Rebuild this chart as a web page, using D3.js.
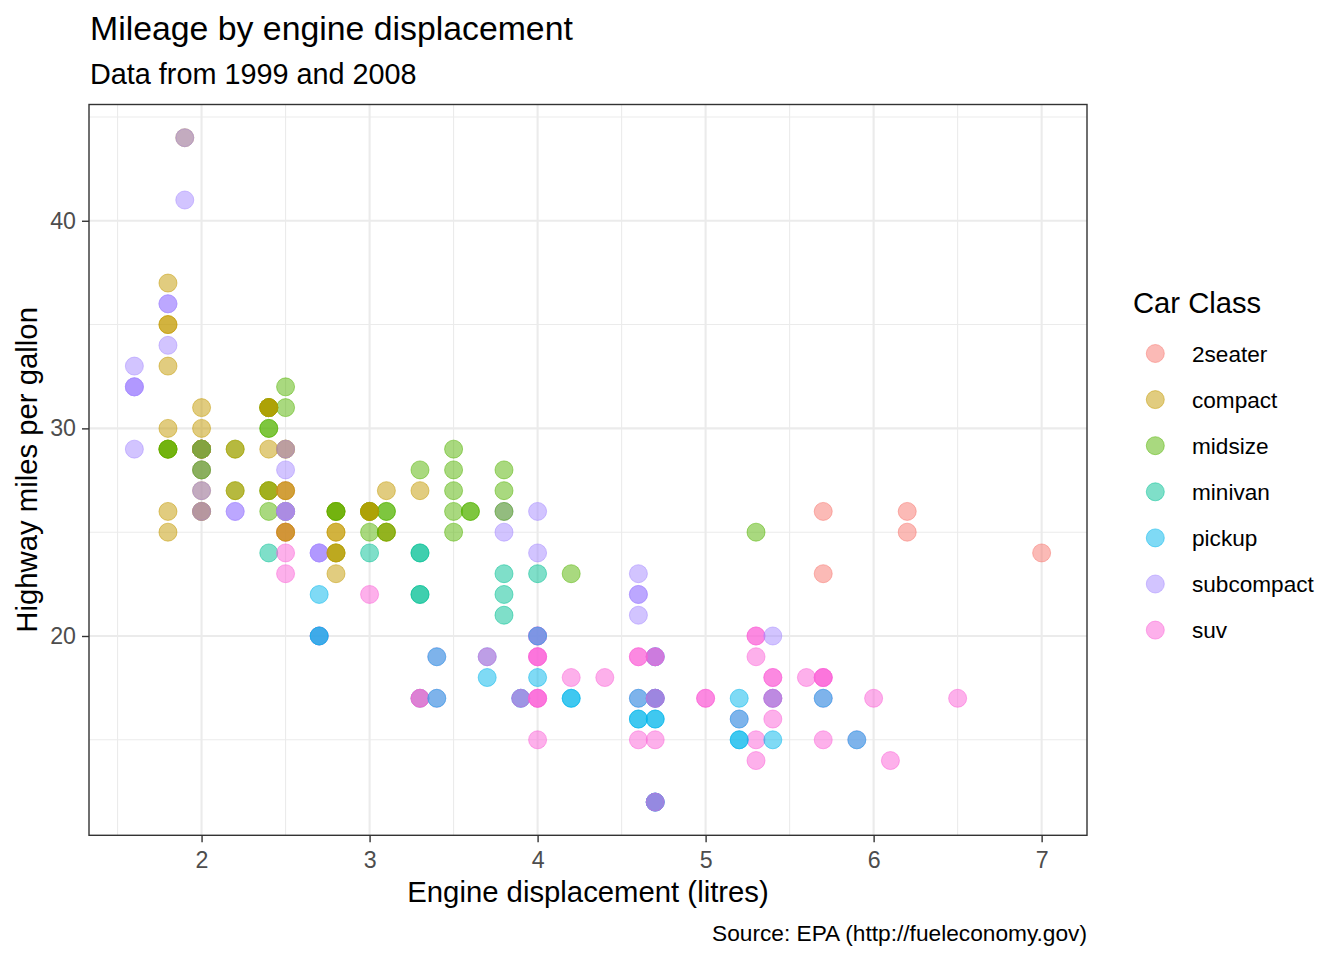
<!DOCTYPE html>
<html>
<head>
<meta charset="utf-8">
<script src="https://cdn.jsdelivr.net/npm/d3@7"></script>
<style>
  html, body { margin: 0; padding: 0; background: #ffffff; }
  svg { display: block; font-family: "Liberation Sans", Arial, Helvetica, sans-serif; }
</style>
</head>
<body>
<svg id="chart" width="1344" height="960"></svg>
<script>
// ---- data (ggplot2 mpg: displ, hwy, class), in dataset row order ----
const displ = [
  // audi
  1.8,1.8,2.0,2.0,2.8,2.8,3.1,1.8,1.8,2.0,2.0,2.8,2.8,3.1,3.1,2.8,3.1,4.2,
  // chevrolet
  5.3,5.3,5.3,5.7,6.0,5.7,5.7,6.2,6.2,7.0,5.3,5.3,5.7,6.5,2.4,2.4,3.1,3.5,3.6,
  // dodge
  2.4,3.0,3.3,3.3,3.3,3.3,3.3,3.8,3.8,3.8,4.0,
  3.7,3.7,3.9,3.9,4.7,4.7,4.7,5.2,5.2,
  3.9,4.7,4.7,4.7,5.2,5.7,5.9,
  4.7,4.7,4.7,4.7,4.7,4.7,5.2,5.2,5.7,5.9,
  // ford
  4.6,5.4,5.4,4.0,4.0,4.0,4.0,4.6,5.0,4.2,4.2,4.6,4.6,4.6,5.4,5.4,
  3.8,3.8,4.0,4.0,4.6,4.6,4.6,4.6,5.4,
  // honda
  1.6,1.6,1.6,1.6,1.6,1.8,1.8,1.8,2.0,
  // hyundai
  2.4,2.4,2.4,2.4,2.5,2.5,3.3,2.0,2.0,2.0,2.0,2.7,2.7,2.7,
  // jeep
  3.0,3.7,4.0,4.7,4.7,4.7,5.7,6.1,
  // land rover, lincoln, mercury
  4.0,4.2,4.4,4.6,5.4,5.4,5.4,4.0,4.0,4.6,5.0,
  // nissan
  2.4,2.4,2.5,2.5,3.5,3.5,3.0,3.0,3.5,3.3,3.3,4.0,5.6,
  // pontiac
  3.1,3.8,3.8,3.8,5.3,
  // subaru
  2.5,2.5,2.5,2.5,2.5,2.5,2.2,2.2,2.5,2.5,2.5,2.5,2.5,2.5,
  // toyota
  2.7,2.7,3.4,3.4,4.0,4.7,
  2.2,2.2,2.4,2.4,3.0,3.0,3.5,
  2.2,2.2,2.4,2.4,3.0,3.0,3.3,
  1.8,1.8,1.8,1.8,1.8,
  4.7,5.7,
  2.7,2.7,2.7,3.4,3.4,4.0,4.0,
  // volkswagen
  2.0,2.0,2.0,2.0,2.8,
  1.9,2.0,2.0,2.0,2.0,2.5,2.5,2.8,2.8,
  1.9,1.9,2.0,2.0,2.5,2.5,
  1.8,1.8,2.0,2.0,2.8,2.8,3.6
];

const hwy = [
  // audi
  29,29,31,30,26,26,27,26,25,28,27,25,25,25,25,24,25,23,
  // chevrolet
  20,15,20,17,17,26,23,26,25,24,19,14,15,17,27,30,26,29,26,
  // dodge
  24,24,22,22,24,24,17,22,21,23,23,
  19,18,17,17,19,19,12,17,15,
  17,17,12,17,16,18,15,
  16,12,17,17,16,12,15,16,17,15,
  // ford
  17,17,18,17,19,17,19,19,17,17,17,16,16,17,15,17,
  26,25,26,24,21,22,23,22,20,
  // honda
  33,32,32,29,32,34,36,36,29,
  // hyundai
  26,27,30,31,26,26,28,26,29,28,27,24,24,24,
  // jeep
  22,19,20,17,12,19,18,14,
  // land rover, lincoln, mercury
  15,18,18,15,17,16,18,17,19,19,17,
  // nissan
  29,27,31,32,27,26,26,25,25,17,17,20,18,
  // pontiac
  26,26,27,28,25,
  // subaru
  25,24,27,25,26,23,26,26,26,26,25,27,25,27,
  // toyota
  20,20,19,17,20,19,
  29,27,31,31,26,26,28,
  27,29,31,31,26,26,27,
  30,33,35,37,35,
  15,18,
  20,20,22,17,19,18,20,
  // volkswagen
  29,26,29,29,24,
  44,29,26,29,29,29,29,23,24,
  44,41,29,26,28,29,
  29,29,28,29,26,26,26
];

const carClass = [
  // audi
  "compact","compact","compact","compact","compact","compact","compact",
  "compact","compact","compact","compact","compact","compact","compact","compact",
  "midsize","midsize","midsize",
  // chevrolet
  "suv","suv","suv","suv","suv",
  "2seater","2seater","2seater","2seater","2seater",
  "suv","suv","suv","suv",
  "midsize","midsize","midsize","midsize","midsize",
  // dodge
  "minivan","minivan","minivan","minivan","minivan","minivan","minivan","minivan","minivan","minivan","minivan",
  "pickup","pickup","pickup","pickup","pickup","pickup","pickup","pickup","pickup",
  "suv","suv","suv","suv","suv","suv","suv",
  "pickup","pickup","pickup","pickup","pickup","pickup","pickup","pickup","pickup","pickup",
  // ford
  "suv","suv","suv","suv","suv","suv","suv","suv","suv",
  "pickup","pickup","pickup","pickup","pickup","pickup","pickup",
  "subcompact","subcompact","subcompact","subcompact","subcompact","subcompact","subcompact","subcompact","subcompact",
  // honda
  "subcompact","subcompact","subcompact","subcompact","subcompact","subcompact","subcompact","subcompact","subcompact",
  // hyundai
  "midsize","midsize","midsize","midsize","midsize","midsize","midsize",
  "subcompact","subcompact","subcompact","subcompact","subcompact","subcompact","subcompact",
  // jeep
  "suv","suv","suv","suv","suv","suv","suv","suv",
  // land rover, lincoln, mercury
  "suv","suv","suv","suv","suv","suv","suv","suv","suv","suv","suv",
  // nissan
  "compact","compact","midsize","midsize","midsize","midsize",
  "midsize","midsize","midsize",
  "suv","suv","suv","suv",
  // pontiac
  "midsize","midsize","midsize","midsize","midsize",
  // subaru
  "suv","suv","suv","suv","suv","suv",
  "subcompact","subcompact","subcompact","subcompact","compact","compact","compact","compact",
  // toyota
  "suv","suv","suv","suv","suv","suv",
  "midsize","midsize","midsize","midsize","midsize","midsize","midsize",
  "compact","compact","compact","compact","compact","compact","compact",
  "compact","compact","compact","compact","compact",
  "suv","suv",
  "pickup","pickup","pickup","pickup","pickup","pickup","pickup",
  // volkswagen
  "compact","compact","compact","compact","compact",
  "compact","compact","compact","compact","compact","compact","compact","compact","compact",
  "subcompact","subcompact","subcompact","subcompact","subcompact","subcompact",
  "midsize","midsize","midsize","midsize","midsize","midsize","midsize"
];

const classes = ["2seater","compact","midsize","minivan","pickup","subcompact","suv"];
const classColors = ["#F8766D","#C49A00","#53B400","#00C094","#00B6EB","#A58AFF","#FB61D7"];
const xTicks = [2,3,4,5,6,7];
const xMinor = [1.5,2.5,3.5,4.5,5.5,6.5];
const yTicks = [20,30,40];
const yMinor = [15,25,35,45];

const titleText = "Mileage by engine displacement";
const subtitleText = "Data from 1999 and 2008";
const xTitle = "Engine displacement (litres)";
const yTitle = "Highway miles per gallon";
const legendTitle = "Car Class";
const captionText = "Source: EPA (http://fueleconomy.gov)";

// ---- layout ----
const panel = {left: 89, right: 1087, top: 104.5, bottom: 835.3};
const svg = d3.select("#chart");

const xExt = d3.extent(displ), yExt = d3.extent(hwy);
const xPad = (xExt[1]-xExt[0])*0.05, yPad = (yExt[1]-yExt[0])*0.05;
const x = d3.scaleLinear().domain([xExt[0]-xPad, xExt[1]+xPad]).range([panel.left, panel.right]);
const y = d3.scaleLinear().domain([yExt[0]-yPad, yExt[1]+yPad]).range([panel.bottom, panel.top]);
const color = d3.scaleOrdinal().domain(classes).range(classColors);

// grid
const grid = svg.append("g");
grid.selectAll(".vminor").data(xMinor).join("line")
  .attr("x1", d => x(d)).attr("x2", d => x(d)).attr("y1", panel.top).attr("y2", panel.bottom)
  .attr("stroke", "#EBEBEB").attr("stroke-width", 1.1);
grid.selectAll(".hminor").data(yMinor).join("line")
  .attr("y1", d => y(d)).attr("y2", d => y(d)).attr("x1", panel.left).attr("x2", panel.right)
  .attr("stroke", "#EBEBEB").attr("stroke-width", 1.1);
grid.selectAll(".vmajor").data(xTicks).join("line")
  .attr("x1", d => x(d)).attr("x2", d => x(d)).attr("y1", panel.top).attr("y2", panel.bottom)
  .attr("stroke", "#EBEBEB").attr("stroke-width", 2.1);
grid.selectAll(".hmajor").data(yTicks).join("line")
  .attr("y1", d => y(d)).attr("y2", d => y(d)).attr("x1", panel.left).attr("x2", panel.right)
  .attr("stroke", "#EBEBEB").attr("stroke-width", 2.1);

// points
const rows = displ.map((d, i) => ({displ: d, hwy: hwy[i], cls: carClass[i]}));
svg.append("g").selectAll("circle").data(rows).join("circle")
  .attr("cx", d => x(d.displ)).attr("cy", d => y(d.hwy)).attr("r", 9)
  .attr("fill", d => color(d.cls)).attr("fill-opacity", 0.5)
  .attr("stroke", d => color(d.cls)).attr("stroke-opacity", 0.5).attr("stroke-width", 1);

// panel border
svg.append("rect")
  .attr("x", panel.left).attr("y", panel.top)
  .attr("width", panel.right - panel.left).attr("height", panel.bottom - panel.top)
  .attr("fill", "none").attr("stroke", "#333333").attr("stroke-width", 1.4);

// axes
const xAxis = svg.append("g").attr("transform", `translate(0,${panel.bottom})`)
  .call(d3.axisBottom(x).tickValues(xTicks).tickSize(7).tickPadding(8).tickFormat(d3.format("d")));
const yAxis = svg.append("g").attr("transform", `translate(${panel.left},0)`)
  .call(d3.axisLeft(y).tickValues(yTicks).tickSize(7).tickPadding(6).tickFormat(d3.format("d")));
[xAxis, yAxis].forEach(a => {
  a.select(".domain").remove();
  a.selectAll(".tick line").attr("stroke", "#333333").attr("stroke-width", 1.4);
  a.selectAll(".tick text").attr("fill", "#4D4D4D")
    .style("font-size", "23.2px").style("font-family", '"Liberation Sans", Arial, sans-serif');
});
xAxis.selectAll(".tick text").attr("dy", "0.76em");

// titles
svg.append("text").attr("x", 90).attr("y", 40).text(titleText)
  .style("font-size", "33.8px").attr("fill", "#000");
svg.append("text").attr("x", 90).attr("y", 84).text(subtitleText)
  .style("font-size", "28.8px").attr("fill", "#000");
svg.append("text").attr("x", (panel.left + panel.right) / 2).attr("y", 902)
  .attr("text-anchor", "middle").text(xTitle).style("font-size", "29.3px").attr("fill", "#000");
svg.append("text")
  .attr("transform", `translate(37,${(panel.top + panel.bottom) / 2}) rotate(-90)`)
  .attr("text-anchor", "middle").text(yTitle).style("font-size", "29.3px").attr("fill", "#000");
svg.append("text").attr("x", panel.right).attr("y", 941).attr("text-anchor", "end")
  .text(captionText).style("font-size", "22.7px").attr("fill", "#000");

// legend
const legend = svg.append("g");
legend.append("text").attr("x", 1133).attr("y", 312.5).text(legendTitle)
  .style("font-size", "29.2px").attr("fill", "#000");
const item = legend.selectAll(".item").data(classes).join("g")
  .attr("transform", (d, i) => `translate(0,${353.5 + i * 46.1})`);
item.append("circle").attr("cx", 1155.3).attr("cy", 0).attr("r", 9)
  .attr("fill", d => color(d)).attr("fill-opacity", 0.5)
  .attr("stroke", d => color(d)).attr("stroke-opacity", 0.5).attr("stroke-width", 1);
item.append("text").attr("x", 1192).attr("y", 8).text(d => d)
  .style("font-size", "22.6px").attr("fill", "#000");
</script>
</body>
</html>
